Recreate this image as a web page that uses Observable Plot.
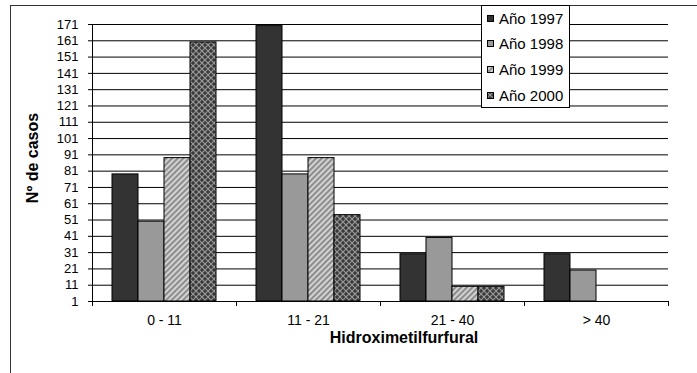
<!DOCTYPE html>
<html><head><meta charset="utf-8">
<script src="https://cdn.jsdelivr.net/npm/d3@7"></script>
<script src="https://cdn.jsdelivr.net/npm/@observablehq/plot@0.6"></script>
<style>
body{margin:0;background:#fff;font-family:"Liberation Sans",Arial,sans-serif;color:#000;}
#wrap{position:relative;width:697px;height:373px;overflow:hidden;background:#fff;}
#border{position:absolute;left:10px;top:5px;width:720px;height:420px;border-left:1px solid #333;border-top:1px solid #333;}
#chart{position:absolute;left:0;top:0;}
#legend{position:absolute;left:481px;top:5px;width:87px;height:101px;border:1px solid #000;background:#fff;}
#legend .row{position:absolute;left:5px;height:18px;display:flex;align-items:center;font-size:15px;white-space:nowrap;}
#ytitle{position:absolute;left:33px;top:158px;transform:translate(-50%,-50%) rotate(-90deg);font-weight:bold;font-size:16px;line-height:1;white-space:nowrap;}
#xtitle{position:absolute;left:404px;top:338px;transform:translate(-50%,-50%);font-weight:bold;font-size:16px;line-height:1;white-space:nowrap;}
</style></head><body>
<svg width="0" height="0" style="position:absolute"><defs>
<pattern id="p1999" width="4" height="4" patternUnits="userSpaceOnUse" patternTransform="rotate(45)">
<rect width="4" height="4" fill="#d2d2d2"/><rect width="1.8" height="4" fill="#868686"/></pattern>
<pattern id="p2000" width="6" height="6" patternUnits="userSpaceOnUse">
<rect width="6" height="6" fill="#3a3a3a"/>
<path d="M0,0 L3,3 L0,6 M6,0 L3,3 M3,3 L6,6" stroke="#9a9a9a" stroke-width="1.1" fill="none"/>
</pattern>
</defs></svg>
<div id="wrap">
<div id="border"></div>
<div id="chart"></div>
<div id="legend"></div>
<div id="ytitle">Nº de casos</div>
<div id="xtitle">Hidroximetilfurfural</div>
</div>
<script>
const categories = ["0 - 11", "11 - 21", "21 - 40", "> 40"];
const series = ["Año 1997", "Año 1998", "Año 1999", "Año 2000"];
const v1997 = [79, 170, 30, 30];
const v1998 = [50, 79, 40, 20];
const v1999 = [89, 89, 10, 0];
const v2000 = [160, 54, 10, 0];
const yTicks = [1, 11, 21, 31, 41, 51, 61, 71, 81, 91, 101, 111, 121, 131, 141, 151, 161, 171];
const fills = ["#333333", "#999999", "url(#p1999)", "url(#p2000)"];

const valuesBySeries = [v1997, v1998, v1999, v2000];
const data = [];
categories.forEach((c, i) => series.forEach((s, j) => data.push({cat: c, series: s, value: valuesBySeries[j][i]})));

const W = 697, H = 373, mL = 91, mR = 29, mT = 24, mB = 72;
const innerH = H - mT - mB;

const chart = Plot.plot({
  width: W, height: H, marginLeft: mL, marginRight: mR, marginTop: mT, marginBottom: mB,
  style: {fontFamily: "Liberation Sans, Arial, sans-serif", background: "transparent", color: "#000"},
  fx: {domain: categories, padding: 0, label: null},
  x: {domain: series, paddingInner: 0, paddingOuter: 0.76, axis: null},
  y: {domain: [1, 171], axis: null},
  color: {domain: series, range: fills},
  marks: [
    Plot.gridY({ticks: yTicks.slice(1), stroke: "#000", strokeOpacity: 1}),
    Plot.barY(data, {fx: "cat", x: "series", y1: 1, y2: "value", fill: "series", stroke: "#000", strokeWidth: 1, filter: d => d.value > 1}),
    Plot.frame({anchor: "bottom", stroke: "#000"}),
    Plot.frame({anchor: "left", stroke: "#000", facetAnchor: "left"}),
    Plot.frame({anchor: "left", insetTop: innerH, insetBottom: -4, stroke: "#000"}),
    Plot.frame({anchor: "right", insetTop: innerH, insetBottom: -4, stroke: "#000", facetAnchor: "right"}),
    Plot.axisY({ticks: yTicks, tickSize: 4, tickPadding: 10, fontSize: 13, label: null, anchor: "left"}),
    Plot.axisFx({anchor: "bottom", tickSize: 0, tickPadding: 14, fontSize: 14, label: null})
  ]
});
document.getElementById("chart").appendChild(chart);

const legend = document.getElementById("legend");
series.forEach((s, i) => {
  const row = document.createElement("div");
  row.className = "row";
  row.style.top = (3 + i * 25.7) + "px";
  const sw = document.createElementNS("http://www.w3.org/2000/svg", "svg");
  sw.setAttribute("width", 7); sw.setAttribute("height", 7);
  sw.style.marginRight = "5px";
  const r = document.createElementNS("http://www.w3.org/2000/svg", "rect");
  r.setAttribute("x", 0.5); r.setAttribute("y", 0.5); r.setAttribute("width", 6); r.setAttribute("height", 6);
  r.setAttribute("fill", fills[i]); r.setAttribute("stroke", "#000");
  sw.appendChild(r);
  row.appendChild(sw);
  const t = document.createElement("span");
  t.textContent = s;
  row.appendChild(t);
  legend.appendChild(row);
});
</script>
</body></html>
